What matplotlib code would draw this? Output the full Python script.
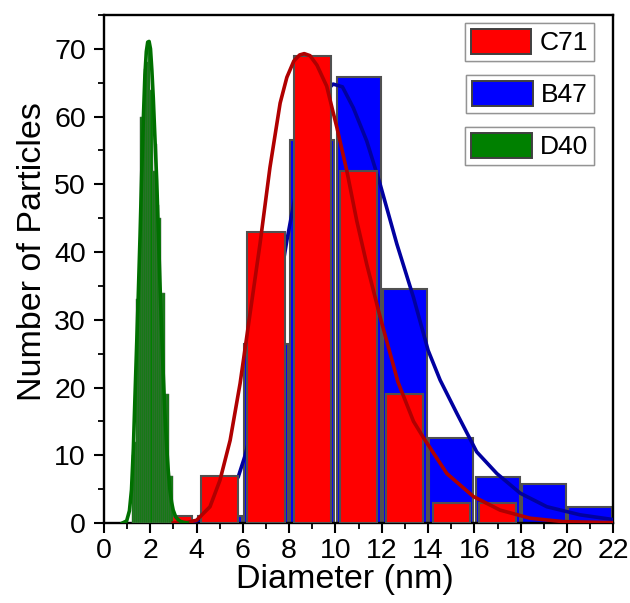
import numpy as np
import matplotlib
matplotlib.use("Agg")
import matplotlib.pyplot as plt
from matplotlib.patches import Patch
from matplotlib.ticker import MultipleLocator

plt.rcParams['font.family'] = ['Liberation Sans', 'DejaVu Sans']

# ---- histogram data (bin centres in nm, counts) ----
c71_centers = [3, 5, 7, 9, 11, 13, 15, 17]
c71_counts = [1, 7, 43, 69, 52, 19, 3, 3]

b47_centers = [5, 7, 9, 11, 13, 15, 17, 19, 21]
b47_counts = [1, 26.5, 56.5, 65.8, 34.5, 12.6, 6.8, 5.7, 2.3]

d40_centers = [1.245, 1.335, 1.425, 1.515, 1.605, 1.695, 1.785, 1.875, 1.965, 2.055,
               2.145, 2.235, 2.325, 2.415, 2.505, 2.595, 2.685, 2.775, 2.865, 2.955]
d40_counts = [10, 12, 33, 34, 60, 60, 67, 68, 71, 64,
              52, 56, 47, 45, 34, 34, 19, 19, 7, 7]

# ---- fit curves ----
c71_fit_x = [3.0, 3.6, 4.0, 4.58, 5.01, 5.45, 5.88, 6.31, 6.74, 7.17, 7.61, 7.9, 8.2, 8.45, 8.65,
             8.9, 9.2, 9.62, 10.06, 10.49, 10.92, 11.35, 11.93, 12.7, 13.37, 13.8, 14.81,
             15.96, 17.11, 18.41, 19.84, 22.0]
c71_fit_y = [0.0, 0.1, 0.4, 2.4, 6.3, 12.2, 20.6, 30.9, 41.2, 52.5, 62.0, 65.8, 68.2, 69.1, 69.3,
             69.0, 67.6, 64.5, 58.4, 52.0, 44.6, 38.2, 30.4, 20.8, 15.0, 12.6, 7.3,
             3.9, 1.9, 0.7, 0.2, 0.05]

b47_fit_x = [3.5, 4.0, 4.5, 5.0, 5.5, 5.8, 6.1, 6.5, 7.0, 7.5, 7.9, 8.3, 8.7, 9.1, 9.5, 9.9,
             10.3, 10.77, 11.35, 11.93, 12.65, 13.37, 14.0, 14.52, 15.24, 16.1, 16.97,
             17.98, 19.13, 20.57, 22.0]
b47_fit_y = [0.05, 0.3, 1.2, 2.8, 5.2, 6.8, 10.0, 15.5, 24.0, 33.5, 41.7, 49.0, 55.6, 60.5,
             63.5, 64.8, 64.4, 61.3, 56.4, 50.0, 41.2, 33.3, 25.5, 21.1, 16.2, 10.5, 7.3,
             4.4, 2.4, 1.2, 0.5]

d40_fit_x = [0.8, 0.98, 1.1, 1.19, 1.27, 1.34, 1.41, 1.48, 1.56, 1.63, 1.70, 1.77, 1.83, 1.89,
             1.95, 2.01, 2.07, 2.13, 2.2, 2.28, 2.35, 2.42, 2.49, 2.56, 2.63, 2.71, 2.78,
             2.85, 2.92, 2.99, 3.1, 3.2, 3.3, 3.45, 3.6]
d40_fit_y = [0.0, 0.3, 1.8, 4.9, 11.0, 18.6, 26.0, 33.3, 42.5, 51.5, 59.5, 66.2, 69.6, 71.0,
             71.1, 70.0, 66.8, 62.8, 57.0, 50.5, 42.8, 35.3, 28.5, 22.0, 16.3, 11.2, 7.6,
             4.9, 3.1, 1.9, 0.9, 0.5, 0.25, 0.08, 0.0]

x_ticks = [0, 2, 4, 6, 8, 10, 12, 14, 16, 18, 20, 22]
y_ticks = [0, 10, 20, 30, 40, 50, 60, 70]

edge = '#505050'

fig = plt.figure(figsize=(6.3, 6.03), dpi=100)
ax = fig.add_axes([0.165, 0.1327, 0.8085, 0.8424])

ax.bar(b47_centers, b47_counts, width=1.9, color='#0000ff', edgecolor=edge, linewidth=1.5, zorder=2)
ax.plot(b47_fit_x, b47_fit_y, color='#0000a0', linewidth=2.6, zorder=3)
ax.bar(c71_centers, c71_counts, width=1.6, color='#ff0000', edgecolor=edge, linewidth=1.5, zorder=4)
ax.bar(d40_centers, d40_counts, width=0.09, color='#008000', edgecolor='#606060', linewidth=0.35, zorder=5)
ax.plot(c71_fit_x, c71_fit_y, color='#b00000', linewidth=2.6, zorder=6)
ax.plot(d40_fit_x, d40_fit_y, color='#007000', linewidth=2.6, zorder=7)

ax.set_xlim(0, 22)
ax.set_ylim(0, 75)
ax.set_xticks(x_ticks)
ax.set_yticks(y_ticks)
ax.xaxis.set_minor_locator(MultipleLocator(1))
ax.yaxis.set_minor_locator(MultipleLocator(5))
ax.tick_params(which='major', direction='out', length=7, width=1.5, labelsize=20.5, pad=4)
ax.tick_params(which='minor', direction='out', length=4, width=1.3)
ax.tick_params(axis='y', which='major', pad=6)
for s in ax.spines.values():
    s.set_linewidth(1.7)

ax.set_xlabel('Diameter (nm)', fontsize=24.5)
ax.set_ylabel('Number of Particles', fontsize=24.5)
ax.xaxis.set_label_coords(0.473, -0.08)
ax.yaxis.set_label_coords(-0.11, 0.535)

# one framed box per sample, like the original
legend_items = [('C71', '#ff0000', 23), ('B47', '#0000ff', 75), ('D40', '#008000', 127)]
for name, col, top_px in legend_items:
    h = Patch(facecolor=col, edgecolor='#404040', linewidth=1.4)
    leg = fig.legend([h], [name], loc='upper right',
                     bbox_to_anchor=(594 / 630, 1 - top_px / 603), bbox_transform=fig.transFigure,
                     fontsize=19, frameon=True, fancybox=False, borderpad=0.22,
                     handlelength=2.3, handleheight=1.1, handletextpad=0.32,
                     borderaxespad=0, edgecolor='#888888')
    leg.get_frame().set_linewidth(1.0)
    fig.add_artist(leg)

fig.savefig('out.png', dpi=100)
